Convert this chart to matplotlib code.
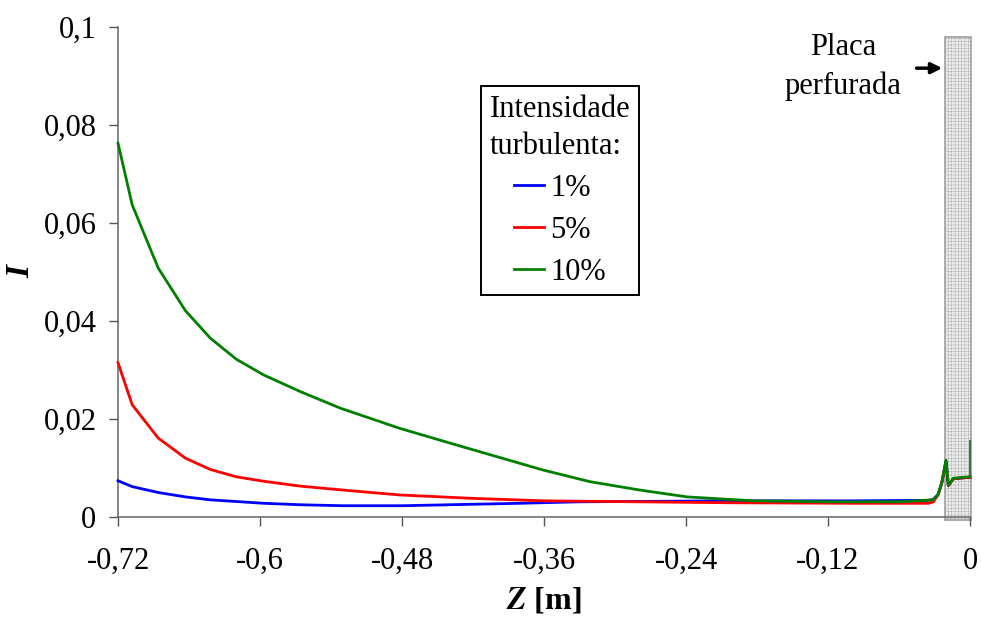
import numpy as np
import matplotlib.pyplot as plt
from matplotlib.patches import Rectangle

plt.rcParams['font.family'] = ['Liberation Serif', 'DejaVu Serif']
plt.rcParams['mathtext.fontset'] = 'stix'
plt.rcParams['hatch.linewidth'] = 0.4

## ------------------- data
z_1 = [-0.72, -0.708, -0.686, -0.663, -0.642, -0.597, -0.566, -0.53, -0.48, -0.44,
       -0.38, -0.33, -0.2, -0.1, -0.035, -0.031, -0.027, -0.0239, -0.0203, -0.0183,
       -0.0141, -0.001, 0.0]
I_1 = [0.0074, 0.0062, 0.0050, 0.0041, 0.0035, 0.0028, 0.0025, 0.0023, 0.0023, 0.0025,
       0.0028, 0.0031, 0.0033, 0.0033, 0.0034, 0.0036, 0.0046, 0.0069, 0.0114, 0.0064,
       0.0078, 0.0081, 0.0081]

z_5 = [-0.72, -0.708, -0.686, -0.663, -0.642, -0.620, -0.597, -0.566, -0.53, -0.482,
       -0.42, -0.36, -0.28, -0.2, -0.1, -0.035, -0.031, -0.027, -0.0239, -0.0203,
       -0.0183, -0.0141, -0.001, 0.0]
I_5 = [0.0315, 0.0229, 0.0161, 0.0120, 0.0097, 0.0082, 0.0073, 0.0063, 0.0055, 0.0045,
       0.0038, 0.0033, 0.0031, 0.0029, 0.0028, 0.0028, 0.0031, 0.0045, 0.0069, 0.0114,
       0.0064, 0.0078, 0.0081, 0.0081]

z_10 = [-0.72, -0.708, -0.686, -0.663, -0.642, -0.620, -0.597, -0.566, -0.532, -0.482,
        -0.434, -0.361, -0.321, -0.279, -0.239, -0.183, -0.12, -0.06, -0.031, -0.027,
        -0.0239, -0.0203, -0.0183, -0.0141, -0.001, 0.0]
I_10 = [0.0763, 0.0637, 0.0508, 0.0421, 0.0365, 0.0322, 0.0290, 0.0256, 0.0222, 0.0181,
        0.0147, 0.0096, 0.0072, 0.0055, 0.0041, 0.0033, 0.0031, 0.0031, 0.0035, 0.0046,
        0.0069, 0.0116, 0.0065, 0.0079, 0.0082, 0.0082]
z_end = [0.0, 0.0]
I_end = [0.0082, 0.0156]

labels = ['1%', '5%', '10%']
colors = ['#0000ff', '#ff0000', '#008000']

xticks = [-0.72, -0.6, -0.48, -0.36, -0.24, -0.12, 0.0]
xticklabels = ['-0,72', '-0,6', '-0,48', '-0,36', '-0,24', '-0,12', '0']
yticks = [0, 0.02, 0.04, 0.06, 0.08, 0.1]
yticklabels = ['0', '0,02', '0,04', '0,06', '0,08', '0,1']

## ------------------- plot
fig = plt.figure(figsize=(9.81, 6.2), dpi=100)
ax = fig.add_axes([118/981, 1-517/620, (970-118)/981, (517-27)/620])

# perforated plate
plate = Rectangle((-0.0211, -0.0006), 0.0218, 0.0986, facecolor='#ececec',
                  edgecolor='#b5b5b5', hatch='+++++', linewidth=0, clip_on=False, zorder=1)
ax.add_patch(plate)
ax.add_patch(Rectangle((-0.0211, -0.0006), 0.0218, 0.0986, facecolor='none',
                       edgecolor='#a0a0a0', linewidth=1.2, clip_on=False, zorder=1))

for z, I, lab, c in zip([z_1, z_5, z_10], [I_1, I_5, I_10], labels, colors):
    ax.plot(z, I, color=c, lw=2.0, label=lab, zorder=3, clip_on=False)
ax.plot(z_end, I_end, color='#2e6b2e', lw=1.3, zorder=3, clip_on=False)

ax.set_xlim(-0.72, 0)
ax.set_ylim(0, 0.1)
ax.set_xticks(xticks)
ax.set_xticklabels(xticklabels)
ax.set_yticks(yticks)
ax.set_yticklabels(yticklabels)
ax.tick_params(axis='both', direction='out', length=6.5, width=1, color='#555555',
               labelsize=22)
ax.tick_params(axis='x', pad=15)
ax.tick_params(axis='y', pad=9)
for s in ['top', 'right']:
    ax.spines[s].set_visible(False)
for s in ['left', 'bottom']:
    ax.spines[s].set_color('#666666')
    ax.spines[s].set_linewidth(1.1)

ax.set_xlabel(r'$\mathbfit{Z}$ [m]', fontsize=23, fontweight='bold', labelpad=7)
ax.set_ylabel('I', fontsize=24, fontweight='bold', fontstyle='italic', labelpad=5)

leg = ax.legend(title='Intensidade\nturbulenta:', loc='upper center',
                bbox_to_anchor=(560/981, 1-86/620), bbox_transform=fig.transFigure,
                fontsize=22, title_fontsize=22, fancybox=False, framealpha=1,
                edgecolor='black', handlelength=1.0, handletextpad=0.2,
                labelspacing=0.42, borderpad=0.28, alignment='center',
                borderaxespad=0)
leg.get_frame().set_linewidth(1.4)
leg.get_title().set_linespacing(1.4)

ax.text(-0.1073, 0.0918, 'Placa\nperfurada', fontsize=22, ha='center', va='center',
        linespacing=1.45)
ax.annotate('', xy=(-0.0211, 0.0916), xytext=(-0.0475, 0.0916),
            arrowprops=dict(arrowstyle='-|>', color='black', lw=2.5, mutation_scale=16))

fig.savefig('out.png', dpi=100)
